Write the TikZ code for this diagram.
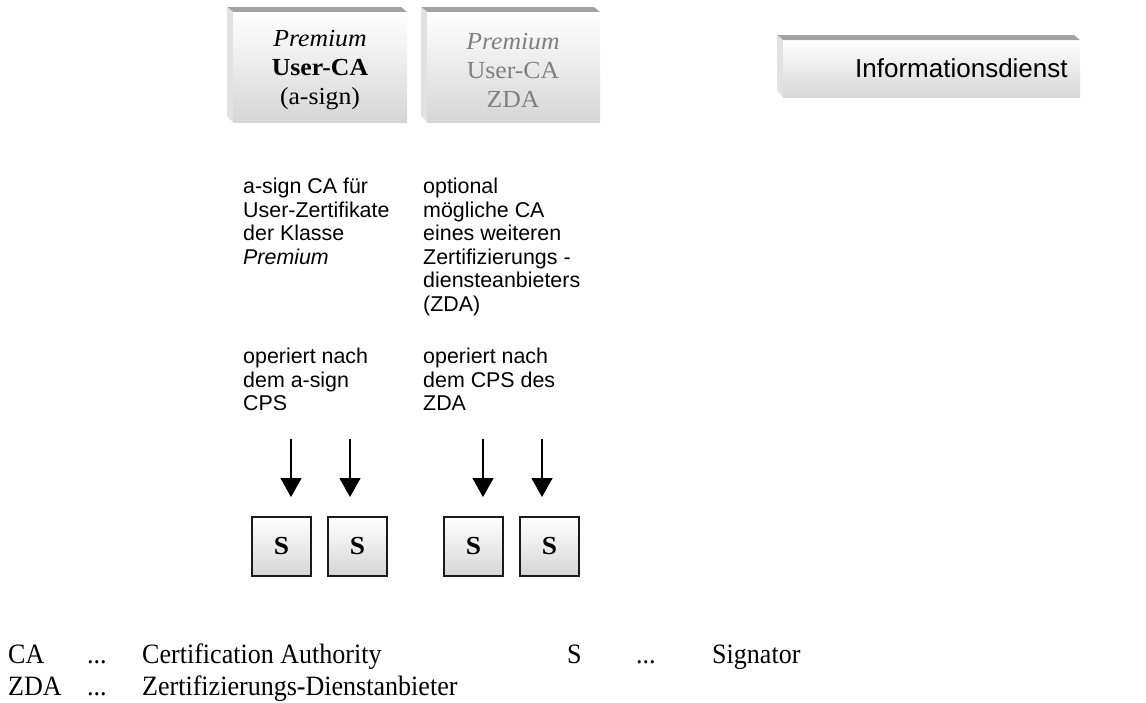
\documentclass[tikz,border=0pt]{standalone}
\usepackage{fontspec}
\setmainfont{Liberation Serif}
\newfontfamily\arialf{Liberation Sans}
\newfontfamily\tnrf[FakeStretch=1.05]{Liberation Serif}
\newfontfamily\legf[FakeStretch=0.93]{Liberation Serif}
\usetikzlibrary{arrows.meta}
\definecolor{barcol}{HTML}{A3A3A3}
\definecolor{sidecol}{HTML}{E2E2E2}
\definecolor{facebot}{HTML}{D6D6D6}
\definecolor{ghost}{HTML}{808080}
\definecolor{sborder}{HTML}{1A1A1A}
\newcommand\bevelframe[4]{%
  \fill[barcol] (#1,-#2) -- ({#3-6},-#2) -- (#3,{-#2-5}) -- ({#1+6},{-#2-5}) -- cycle;
  \fill[sidecol] (#1,-#2) -- ({#1+6},{-#2-5}) -- ({#1+6},-#4) -- (#1,{-#4+6}) -- cycle;
}
\tikzset{
  face/.style={top color=white, bottom color=facebot, inner sep=0pt, outer sep=0pt, anchor=north west},
  catext/.style={font=\tnrf\fontsize{24.5}{29}\selectfont, align=center},
  sbox/.style={draw=sborder, line width=1.5pt, minimum width=59pt, minimum height=59pt, inner sep=0pt,
    top color=white, bottom color=facebot, font=\tnrf\bfseries\fontsize{26}{26}\selectfont},
  arr/.style={line width=1.3pt, -{Triangle[length=19pt,width=21pt]}},
  txt/.style={font=\arialf\fontsize{21.4}{23.5}\selectfont, align=left, inner sep=0pt, anchor=north west},
  leg/.style={font=\legf\fontsize{28}{28}\selectfont, inner sep=0pt, anchor=base west},
}
\begin{document}
\begin{tikzpicture}[x=1pt,y=1pt]
\useasboundingbox[fill=white] (0,0) rectangle (1146,-702);

% top boxes
\bevelframe{227}{7}{407}{122}
\node[face, minimum width=174pt, minimum height=110pt] (ca1) at (233,-12) {};
\node[catext] (ca1t) at (320,-70) {\itshape Premium\\\bfseries User-CA\\(a-sign)};

\bevelframe{421}{7}{600}{122}
\node[face, minimum width=173pt, minimum height=110pt] (ca2) at (427,-12) {};
\node[catext, text=ghost] (ca2t) at (513,-70) {\itshape Premium\\User-CA\\ZDA};

\bevelframe{777}{35}{1080}{97}
\node[face, minimum width=297pt, minimum height=56pt] (info) at (783,-41) {};
\node[font=\arialf\fontsize{26}{26}\selectfont, inner sep=0pt, anchor=base west] (infot) at (855,-77) {Informationsdienst};

% descriptive texts
\node[txt] (d1) at (243,-178) {a-sign CA für\\User-Zertifikate\\der Klasse\\\textit{Premium}};
\node[txt] (d2) at (423,-178) {optional\\mögliche CA\\eines weiteren\\Zertifizierungs -\\diensteanbieters\\(ZDA)};
\node[txt] (o1) at (243,-348) {operiert nach\\dem a-sign\\CPS};
\node[txt] (o2) at (423,-348) {operiert nach\\dem CPS des\\ZDA};

% arrows
\foreach \i/\x in {1/291,2/350,3/483,4/542}{
  \coordinate (a\i s) at (\x,-439);
  \coordinate (a\i e) at (\x,-497);
  \draw[arr] (a\i s) -- (a\i e);
}

% signator boxes
\node[sbox] (s1) at (281.5,-546.5) {S};
\node[sbox] (s2) at (357.5,-546.5) {S};
\node[sbox] (s3) at (473.5,-546.5) {S};
\node[sbox] (s4) at (549.5,-546.5) {S};

% legend
\node[leg] (l1a) at (8,-663) {CA};
\node[leg] (l1b) at (87,-663) {...};
\node[leg] (l1c) at (142,-663) {Certification Authority};
\node[leg] (l1d) at (567,-663) {S};
\node[leg] (l1e) at (636,-663) {...};
\node[leg] (l1f) at (712,-663) {Signator};
\node[leg] (l2a) at (8,-695) {ZDA};
\node[leg] (l2b) at (87,-695) {...};
\node[leg] (l2c) at (142,-695) {Zertifizierungs-Dienstanbieter};
\end{tikzpicture}
\end{document}
